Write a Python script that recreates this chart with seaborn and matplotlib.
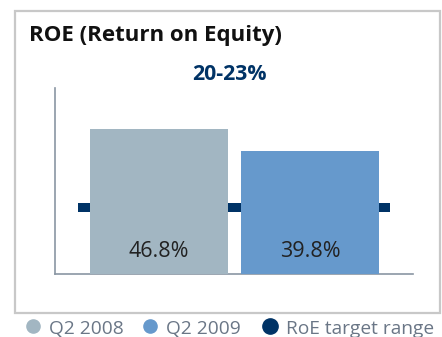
import matplotlib
matplotlib.use("Agg")
import matplotlib.pyplot as plt
from matplotlib.lines import Line2D
from matplotlib.patches import Rectangle
import seaborn as sns
import pandas as pd

# Data
categories = ["Q2 2008", "Q2 2009"]
roe_values = [46.8, 39.8]
target_low = 20.0
target_high = 23.0
target_label = "20-23%"
legend_labels = ["Q2 2008", "Q2 2009", "RoE target range"]

bar_colors = ["#a2b6c2", "#6699cc"]
target_color = "#003366"
axis_color = "#8a96a3"
text_grey = "#6a7686"

sns.set_theme(style="white")
plt.rcParams["font.family"] = ["Open Sans", "DejaVu Sans"]

W, H = 442, 337
fig = plt.figure(figsize=(W / 100, H / 100), dpi=100)
ax = fig.add_axes([55 / W, 1 - 274 / H, (413 - 55) / W, (274 - 88) / H])

df = pd.DataFrame({"period": categories, "roe": roe_values})
sns.barplot(data=df, x="period", y="roe", hue="period", palette=bar_colors,
            width=0.914, saturation=1, legend=False, linewidth=0, ax=ax, zorder=3)

# Target band behind the bars
ax.fill_between([-0.536, 1.53], target_low, target_high, color=target_color,
                linewidth=0, zorder=1)

ax.set_xlim(-0.689, 1.682)
ax.set_ylim(0, 60)
ax.set_xlabel("")
ax.set_ylabel("")
ax.set_xticks([])
ax.set_yticks([])
for side in ["top", "right"]:
    ax.spines[side].set_visible(False)
for side in ["left", "bottom"]:
    ax.spines[side].set_color(axis_color)
    ax.spines[side].set_linewidth(1.2)

# Value labels inside bars
for i, v in enumerate(roe_values):
    ax.text(i, 5.4, f"{v}%", ha="center", va="baseline", fontsize=15.5,
            color="#222222", zorder=4)

# Outer frame
fig.add_artist(Rectangle((15 / W, 1 - 313 / H), (440 - 15) / W, (313 - 11) / H,
                         transform=fig.transFigure, fill=False,
                         edgecolor="#c8c8c8", linewidth=1.6))

fig.text(29 / W, 1 - 41 / H, "ROE (Return on Equity)", fontsize=16,
         fontweight="bold", color="#111111", ha="left", va="baseline")
fig.text(229 / W, 1 - 80 / H, target_label, fontsize=15.3, fontweight="bold",
         color=target_color, ha="center", va="baseline")

# Legend
legend_colors = bar_colors + [target_color]
marker_x = [33, 150, 270]
marker_sizes = [9.5, 9.5, 11]
for lbl, col, mx, ms in zip(legend_labels, legend_colors, marker_x, marker_sizes):
    fig.add_artist(Line2D([mx / W], [1 - 326 / H], marker="o", markersize=ms,
                          color=col, linestyle="none", transform=fig.transFigure))
    fig.text((mx + 16) / W, 1 - 334 / H, lbl, fontsize=13.8, color=text_grey,
             ha="left", va="baseline")

fig.savefig("out.png", dpi=100)
